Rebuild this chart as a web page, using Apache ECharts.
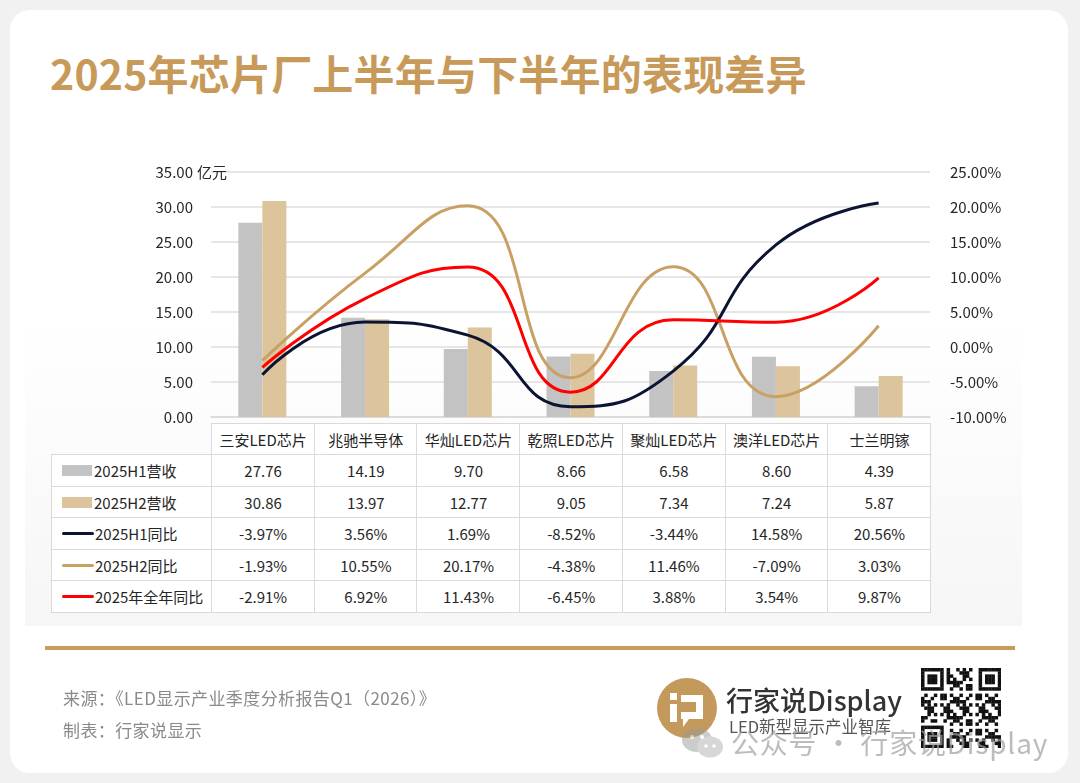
<!DOCTYPE html>
<html>
<head>
<meta charset="utf-8">
<script src="https://cdn.jsdelivr.net/npm/echarts@6/dist/echarts.min.js"></script>
<style>
  body{margin:0;width:1080px;height:783px;background:#f1f1f1;overflow:hidden;font-family:"Noto Sans CJK SC","Noto Sans",sans-serif;position:relative;}
  .abs{position:absolute;}
  #card{left:10px;top:10px;width:1058px;height:763px;background:#fff;border-radius:20px;}
  #panel{left:25px;top:150px;width:997px;height:476px;background:linear-gradient(#fff 0%,#fff 35%,#f6f6f6 100%);}
  #title{left:50px;top:44px;font-size:41px;font-weight:700;color:#c89a5a;line-height:56px;white-space:nowrap;letter-spacing:0.2px;}
  #chart{left:0;top:0;width:1080px;height:783px;}
  .cell{position:absolute;box-sizing:border-box;border:1.5px solid #dadada;font-size:15px;color:#262626;display:flex;align-items:center;justify-content:center;white-space:nowrap;background:#fff;}
  .src{left:63px;font-size:17px;color:#8a8a8a;white-space:nowrap;letter-spacing:0.4px;}
</style>
</head>
<body>
<div id="card" class="abs"></div>
<div id="panel" class="abs"></div>
<div id="title" class="abs">2025年芯片厂上半年与下半年的表现差异</div>
<div id="chart" class="abs"></div>
<div id="unit" class="abs" style="left:197px;top:161px;font-size:15px;color:#262626;">亿元</div>
<div id="table"></div>
<div class="abs" style="left:45px;top:646px;width:970px;height:4px;background:#c89b5c;"></div>
<div class="abs src" style="top:685px;">来源：《LED显示产业季度分析报告Q1（2026）》</div>
<div class="abs src" style="top:717px;">制表：行家说显示</div>
<svg class="abs" style="left:656px;top:677px;" width="62" height="62" viewBox="0 0 62 62">
  <circle cx="31" cy="31" r="30" fill="#c49a5c"/>
  <rect x="14" y="16" width="7" height="7" fill="#fff"/>
  <rect x="14" y="27" width="7" height="18" fill="#fff"/>
  <path d="M25 18 H47 V42 H33 L27 50 V42 H25 V35 H40 V25 H25 Z" fill="#fff"/>
</svg>
<div class="abs" style="left:726px;top:681px;font-size:27px;font-weight:500;color:#333;white-space:nowrap;line-height:38px;">行家说Display</div>
<div class="abs" style="left:729px;top:715px;font-size:16.5px;color:#555;white-space:nowrap;line-height:22px;">LED新型显示产业智库</div>
<canvas id="qr" class="abs" style="left:921px;top:668px;" width="80" height="80"></canvas>
<svg class="abs" style="left:680px;top:726px;opacity:0.5" width="46" height="34" viewBox="0 0 46 34">
  <ellipse cx="17" cy="14" rx="15" ry="12" fill="#9a9a9a"/>
  <ellipse cx="30" cy="21" rx="13" ry="10.5" fill="#b0b0b0"/>
  <circle cx="12" cy="11" r="2" fill="#fff"/><circle cx="22" cy="11" r="2" fill="#fff"/>
  <circle cx="26" cy="20" r="1.7" fill="#fff"/><circle cx="34" cy="20" r="1.7" fill="#fff"/>
</svg>
<div class="abs" style="left:731px;top:722px;font-size:28px;color:rgba(160,160,160,0.7);white-space:nowrap;line-height:40px;letter-spacing:0.8px;">公众号 · 行家说Display</div>
<script>
// 数据
const companies = ['三安LED芯片','兆驰半导体','华灿LED芯片','乾照LED芯片','聚灿LED芯片','澳洋LED芯片','士兰明镓'];
const revH1 = [27.76, 14.19, 9.70, 8.66, 6.58, 8.60, 4.39];
const revH2 = [30.86, 13.97, 12.77, 9.05, 7.34, 7.24, 5.87];
const yoyH1 = [-3.97, 3.56, 1.69, -8.52, -3.44, 14.58, 20.56];
const yoyH2 = [-1.93, 10.55, 20.17, -4.38, 11.46, -7.09, 3.03];
const yoyYear = [-2.91, 6.92, 11.43, -6.45, 3.88, 3.54, 9.87];
const seriesNames = ['2025H1营收','2025H2营收','2025H1同比','2025H2同比','2025年全年同比'];
const colors = ['#c3c3c3','#dcc49c','#0c1433','#c9a063','#fe0000'];

let chart = echarts.init(document.getElementById('chart'));
let lineStyle = (c) => ({color: c, width: 3});
let options = {
    animation: false,
    grid: {left: 211, top: 172, width: 719, height: 245},
    xAxis: {
        type: 'category',
        data: companies,
        axisLabel: {show: false},
        axisTick: {show: false},
        axisLine: {lineStyle: {color: '#d9d9d9', width: 1.5}}
    },
    yAxis: [
        {
            type: 'value', min: 0, max: 35, interval: 5,
            axisLabel: {margin: 18, fontSize: 15, color: '#262626', fontFamily: 'Noto Sans CJK SC', formatter: v => v.toFixed(2)},
            splitLine: {lineStyle: {color: '#dedede', width: 1.5}},
            axisLine: {show: false}, axisTick: {show: false}
        },
        {
            type: 'value', min: -10, max: 25, interval: 5,
            axisLabel: {margin: 20, fontSize: 15, color: '#262626', fontFamily: 'Noto Sans CJK SC', formatter: v => v.toFixed(2) + '%'},
            splitLine: {show: false},
            axisLine: {show: false}, axisTick: {show: false}
        }
    ],
    series: [
        {name: seriesNames[0], type: 'bar', data: revH1, barWidth: 24, barGap: '0%', itemStyle: {color: colors[0]}},
        {name: seriesNames[1], type: 'bar', data: revH2, barWidth: 24, itemStyle: {color: colors[1]}},
        {name: seriesNames[2], type: 'line', yAxisIndex: 1, data: yoyH1, smooth: 0.5, symbol: 'none', lineStyle: lineStyle(colors[2]), z: 4},
        {name: seriesNames[3], type: 'line', yAxisIndex: 1, data: yoyH2, smooth: 0.5, symbol: 'none', lineStyle: lineStyle(colors[3]), z: 3},
        {name: seriesNames[4], type: 'line', yAxisIndex: 1, data: yoyYear, smooth: 0.5, symbol: 'none', lineStyle: lineStyle(colors[4]), z: 5}
    ]
};
chart.setOption(options);

// 表格
function buildTable(){
    let table = document.getElementById('table');
    let c0 = chart.convertToPixel({xAxisIndex: 0}, 0);
    let c1 = chart.convertToPixel({xAxisIndex: 0}, 1);
    let band = c1 - c0;
    let left0 = c0 - band / 2;
    let top0 = 423, headH = 31, rowH = 31.6, firstLeft = 51;
    let rows = [
        revH1.map(v => v.toFixed(2)),
        revH2.map(v => v.toFixed(2)),
        yoyH1.map(v => v.toFixed(2) + '%'),
        yoyH2.map(v => v.toFixed(2) + '%'),
        yoyYear.map(v => v.toFixed(2) + '%')
    ];
    let addCell = (x, y, w, h, html, extra) => {
        let d = document.createElement('div');
        d.className = 'cell';
        d.style.left = x + 'px'; d.style.top = y + 'px';
        d.style.width = (w + 1.5) + 'px'; d.style.height = (h + 1.5) + 'px';
        d.innerHTML = html;
        if (extra) Object.assign(d.style, extra);
        table.appendChild(d);
    };
    companies.forEach((name, i) => addCell(left0 + i * band, top0, band, headH, name));
    rows.forEach((row, r) => {
        let y = top0 + headH + r * rowH;
        let swatch = r < 2
            ? `<span style="display:inline-block;width:30px;height:11px;background:${colors[r]};margin-right:2px;"></span>`
            : `<span style="display:inline-block;width:32px;height:3px;border-radius:2px;background:${colors[r]};margin-right:1px;"></span>`;
        addCell(firstLeft, y, left0 - firstLeft, rowH, swatch + seriesNames[r], {justifyContent: 'flex-start', paddingLeft: '10px'});
        row.forEach((v, i) => addCell(left0 + i * band, y, band, rowH, v));
    });
}
buildTable();

// 二维码装饰
(function(){
    let ctx = document.getElementById('qr').getContext('2d');
    let n = 25, s = 80 / n;
    ctx.fillStyle = '#fff'; ctx.fillRect(0, 0, 80, 80);
    ctx.fillStyle = '#111';
    let finder = (r, c) => {
        for (let i = 0; i < 7; i++) for (let j = 0; j < 7; j++) {
            let edge = i == 0 || i == 6 || j == 0 || j == 6;
            let core = i >= 2 && i <= 4 && j >= 2 && j <= 4;
            if (edge || core) ctx.fillRect((c + j) * s, (r + i) * s, s + 0.3, s + 0.3);
        }
    };
    for (let r = 0; r < n; r++) for (let c = 0; c < n; c++) {
        let inF = (r < 8 && c < 8) || (r < 8 && c >= n - 8) || (r >= n - 8 && c < 8);
        if (inF) continue;
        if (((r * 31 + c * 17 + r * c * 7) % 11) < 5) ctx.fillRect(c * s, r * s, s + 0.3, s + 0.3);
    }
    finder(0, 0); finder(0, n - 7); finder(n - 7, 0);
})();
</script>
</body>
</html>
